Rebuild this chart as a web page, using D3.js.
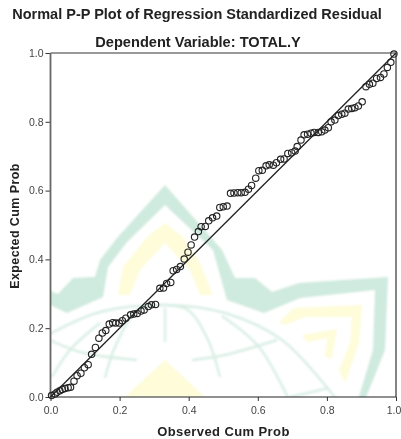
<!DOCTYPE html>
<html>
<head>
<meta charset="utf-8">
<script src="https://d3js.org/d3.v7.min.js"></script>
<style>
  html, body { margin: 0; padding: 0; background: #fff; }
  svg { display: block; filter: blur(0.3px); }
  text { font-family: "Liberation Sans", Arial, sans-serif; }
</style>
</head>
<body>
<div id="my_dataviz"></div>
<script>

// observed / expected cumulative probabilities
var observed = [
  .003,.013,.019,.027,.034,.042,.051,.058,.068,.077,.088,.098,.109,.119,.130,.140,
  .150,.160,.170,.180,.189,.199,.208,.218,.232,.241,.251,.262,.271,.283,.292,.304,
  .3165,.327,.336,.348,.355,.365,.376,.387,.398,.407,.417,.428,.436,.448,.458,.469,
  .481,.490,.500,.511,.521,.531,.542,.552,.563,.573,.582,.594,.603,.613,.624,.633,
  .645,.654,.666,.676,.687,.698,.708,.714,.725,.734,.744,.754,.763,.775,.785,.794,
  .804,.812,.823,.833,.843,.852,.862,.872,.881,.891,.902,.913,.923,.933,.944,.955,
  .965,.975,.985,.994
];
var expected = [
  .004,.009,.014,.018,.022,.025,.027,.028,.046,.062,.069,.085,.094,.124,.144,.171,
  .186,.193,.212,.216,.215,.215,.222,.229,.239,.241,.243,.250,.253,.263,.268,.269,
  .316,.317,.330,.333,.367,.371,.379,.401,.421,.442,.465,.481,.495,.496,.512,.521,
  .526,.551,.553,.555,.592,.593,.594,.594,.595,.604,.615,.636,.658,.659,.672,.675,
  .674,.681,.691,.692,.708,.710,.715,.728,.747,.762,.764,.767,.769,.769,.771,.776,
  .783,.800,.805,.818,.822,.825,.837,.839,.841,.846,.858,.902,.909,.912,.926,.929,
  .939,.958,.973,.997
];
var tickLabels = [0, 0.2, 0.4, 0.6, 0.8, 1.0];
var referenceLine = [0, 1];

var titleText = "Normal P-P Plot of Regression Standardized Residual";
var subtitleText = "Dependent Variable: TOTAL.Y";
var xLabel = "Observed Cum Prob";
var yLabel = "Expected Cum Prob";

// set the dimensions and margins of the graph
var margin = {top: 53, right: 5, bottom: 42, left: 50.5},
    width = 401 - margin.left - margin.right,
    height = 439 - margin.top - margin.bottom;

// append the svg object to the body of the page
var root = d3.select("#my_dataviz")
  .append("svg")
    .attr("width", 401)
    .attr("height", 439);

var svg = root.append("g")
    .attr("transform", "translate(" + margin.left + "," + margin.top + ")");

var x = d3.scaleLinear().domain([0, 1]).range([0, width]);
var y = d3.scaleLinear().domain([0, 1]).range([height, 0]);

// background watermark, in page pixels, clipped to the plot area
root.append("defs").append("clipPath").attr("id", "clip")
  .append("rect")
    .attr("x", margin.left).attr("y", margin.top)
    .attr("width", width).attr("height", height);

var mark = root.insert("g", ":first-child")
    .attr("clip-path", "url(#clip)")
  .append("g")
    .style("filter", "blur(0.8px)");
var green = "#cfeade", lineGreen = "#d9eee5", yellow = "#fefcd9";

var archGreen = [[165,185],[117,238],[100,260],[95,277],[73,278],[58,294],[46,289],[46,303],[67,313],[103,297],[108,267],[127,242],[165,205],
  [213,250],[222,282],[227,300],[264,313],[300,298],[375,290],[373,350],[358,400],[365,400],[385,350],[388,277],[299,283],[272,292],[255,278],[235,278],[222,250]];
var yellowShapes = [
  [[165,223],[147,237],[123,267],[118,295],[130,295],[140,270],[165,243],[190,270],[200,295],[213,295],[200,263],[183,237]],
  [[165,360],[125,397],[205,397]],
  [[279,322],[294,308],[362,305],[359,343],[345,383],[339,370],[350,343],[352,317],[305,317],[285,325]],
  [[302,335],[337,329],[332,358],[325,357],[327,338],[307,342]]
];
var globeLines = [
  [[48,335],[100,312],[165,305],[225,313],[282,340],[337,400]],
  [[105,378],[115,347],[138,310],[165,305]],
  [[165,305],[188,310],[208,340],[220,377]],
  [[222,316],[259,347],[289,400]],
  [[48,339],[80,352],[137,360]],
  [[192,360],[225,355],[277,340]],
  [[52,377],[70,350],[100,323]],
  [[165,308],[165,342]],
  [[290,397],[329,388]]
];

mark.append("path")
    .attr("d", d3.line()(archGreen) + "Z")
    .attr("fill", green);
mark.selectAll(".yel").data(yellowShapes).enter().append("path")
    .attr("d", function(d) { return d3.line()(d) + "Z"; })
    .attr("fill", yellow);
mark.selectAll(".glob").data(globeLines).enter().append("path")
    .attr("d", d3.line().curve(d3.curveCatmullRom))
    .attr("fill", "none")
    .attr("stroke", lineGreen)
    .attr("stroke-width", 2.4);

// Add X axis
var xAxis = svg.append("g")
    .attr("transform", "translate(0," + height + ")")
    .call(d3.axisBottom(x).tickValues(tickLabels).tickFormat(d3.format(".1f")).tickSize(4).tickPadding(6));

// Add Y axis
var yAxis = svg.append("g")
    .call(d3.axisLeft(y).tickValues(tickLabels).tickFormat(d3.format(".1f")).tickSize(5).tickPadding(2));

xAxis.selectAll("text").style("font-size", "10.5px").attr("fill", "#444");
yAxis.selectAll("text").style("font-size", "10.5px").attr("fill", "#444");
xAxis.selectAll("line").attr("stroke", "#333");
yAxis.selectAll("line").attr("stroke", "#333");
xAxis.select(".domain").remove();
yAxis.select(".domain").remove();

// keep the last label inside the window
xAxis.selectAll("text").filter(function(d) { return d === 1; }).attr("dx", -2.5);

// plot frame
svg.append("line").attr("x1", 0).attr("x2", width).attr("y1", 0).attr("y2", 0)
    .attr("stroke", "#777").attr("stroke-width", 1.4);
svg.append("line").attr("x1", width).attr("x2", width).attr("y1", 0).attr("y2", height)
    .attr("stroke", "#666").attr("stroke-width", 1.6);
svg.append("line").attr("x1", 0).attr("x2", 0).attr("y1", 0).attr("y2", height)
    .attr("stroke", "#666").attr("stroke-width", 1.8);
svg.append("line").attr("x1", 0).attr("x2", width).attr("y1", height).attr("y2", height)
    .attr("stroke", "#222").attr("stroke-width", 1.2);

// diagonal reference line
svg.append("line")
    .attr("x1", x(referenceLine[0])).attr("y1", y(referenceLine[0]))
    .attr("x2", x(referenceLine[1])).attr("y2", y(referenceLine[1]))
    .attr("stroke", "#222").attr("stroke-width", 1.3);

// Add dots
svg.append("g").selectAll("circle")
  .data(observed)
  .enter()
  .append("circle")
    .attr("cx", function(d) { return x(d); })
    .attr("cy", function(d, i) { return y(expected[i]); })
    .attr("r", 3.2)
    .attr("fill", "none")
    .attr("stroke", "#222")
    .attr("stroke-width", 1.1);

// titles
root.append("text").attr("x", 197).attr("y", 19).attr("text-anchor", "middle")
    .style("font-size", "14.5px").style("font-weight", "bold").attr("fill", "#222").text(titleText);
root.append("text").attr("x", 198).attr("y", 47).attr("text-anchor", "middle")
    .style("font-size", "14.6px").style("font-weight", "bold").attr("fill", "#222").text(subtitleText);
root.append("text").attr("x", 223.5).attr("y", 436).attr("text-anchor", "middle")
    .style("font-size", "13px").style("font-weight", "bold").style("letter-spacing", "0.4px").attr("fill", "#222").text(xLabel);
root.append("text").attr("transform", "translate(19,226) rotate(-90)").attr("text-anchor", "middle")
    .style("font-size", "12.5px").style("font-weight", "bold").style("letter-spacing", "0.4px").attr("fill", "#222").text(yLabel);

</script>
</body>
</html>
